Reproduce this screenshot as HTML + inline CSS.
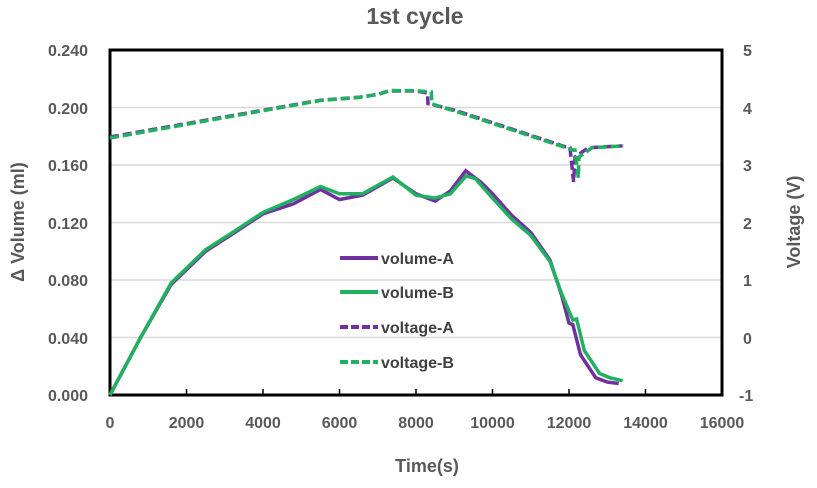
<!DOCTYPE html><html><head><style>body{margin:0;background:#fff}svg{font-family:"Liberation Sans",sans-serif;font-weight:bold}</style></head><body>
<svg width="817" height="483" viewBox="0 0 817 483">
<text x="415" y="24" text-anchor="middle" font-size="23" fill="#595959">1st cycle</text>
<g stroke="#d9d9d9" stroke-width="1.5">
<line x1="110" y1="107.5" x2="722" y2="107.5"/><line x1="110" y1="165" x2="722" y2="165"/><line x1="110" y1="222.5" x2="722" y2="222.5"/><line x1="110" y1="280" x2="722" y2="280"/><line x1="110" y1="337.5" x2="722" y2="337.5"/></g>
<rect x="110" y="50" width="612" height="345" fill="none" stroke="#000" stroke-width="3"/>
<g stroke="#000" stroke-width="1.5">
<line x1="186.5" y1="395" x2="186.5" y2="389"/><line x1="263" y1="395" x2="263" y2="389"/><line x1="339.5" y1="395" x2="339.5" y2="389"/><line x1="416" y1="395" x2="416" y2="389"/><line x1="492.5" y1="395" x2="492.5" y2="389"/><line x1="569" y1="395" x2="569" y2="389"/><line x1="645.5" y1="395" x2="645.5" y2="389"/>
</g>
<g font-size="16" fill="#595959" text-anchor="end">
<text x="88" y="56">0.240</text><text x="88" y="114">0.200</text><text x="88" y="171">0.160</text><text x="88" y="229">0.120</text><text x="88" y="286">0.080</text><text x="88" y="344">0.040</text><text x="88" y="401">0.000</text></g>
<g font-size="16" fill="#595959" text-anchor="start">
<text x="743" y="56">5</text><text x="743" y="114">4</text><text x="743" y="171">3</text><text x="743" y="229">2</text><text x="743" y="286">1</text><text x="743" y="344">0</text><text x="739" y="401">-1</text></g>
<g font-size="16" fill="#595959" text-anchor="middle">
<text x="110" y="428">0</text><text x="186.5" y="428">2000</text><text x="263" y="428">4000</text><text x="339.5" y="428">6000</text><text x="416" y="428">8000</text><text x="492.5" y="428">10000</text><text x="569" y="428">12000</text><text x="645.5" y="428">14000</text><text x="722" y="428">16000</text></g>
<text x="427" y="472" text-anchor="middle" font-size="18" fill="#595959">Time(s)</text>
<text transform="translate(24,222) rotate(-90)" text-anchor="middle" font-size="18" fill="#595959">Δ Volume (ml)</text>
<text transform="translate(800,222) rotate(-90)" text-anchor="middle" font-size="18" fill="#595959">Voltage (V)</text>
<polyline fill="none" stroke="#7030a0" stroke-width="3.5" points="110,395 140.6,337.5 171.2,284.3 205.6,251.3 232.4,234 263,213.9 293.6,203.8 320.4,189.4 339.5,199.5 362.5,195.2 393,178 416,193.8 435.1,201 450.4,190.9 465.7,170.8 481,182.3 492.5,193.8 511.6,215.3 530.8,232.6 549.9,259.9 561.4,294.4 569,323.1 572.8,324.6 580.5,354.8 595.8,377.8 607.2,382.1 618.7,383.5"/>
<polyline fill="none" stroke="#20b060" stroke-width="3.5" points="110,395 140.6,337.5 171.2,282.9 205.6,249.8 232.4,232.6 263,212.4 293.6,199.5 320.4,186.5 339.5,193.8 362.5,193.8 393,177 416,195.2 435.1,198.1 450.4,193.8 466,176 475.2,178.5 492.5,198.1 511.6,219 530.8,235.4 549.9,261.3 561.4,293 572.8,320 576.6,319 584.3,350.5 599.6,373.5 610,377.8 622.6,380.7"/>
<polyline fill="none" stroke="#7030a0" stroke-width="3.5" stroke-dasharray="9,4" points="110,137 320.4,100.2 358.6,97.3 377.8,94.4 389.3,91 416,91 427.5,93 428,103.6 454.2,110 569,148 570,148 573.6,182 575,157 588.5,147.7 622.6,145.9"/>
<polyline fill="none" stroke="#20b060" stroke-width="3.5" stroke-dasharray="9,4" points="110,138 320.4,100.5 358.6,97.5 377.8,94.4 389.3,90.5 416,90.8 431.3,92 432,104 458,112 573,150 575,150 578.3,178 579,157 592,147.7 624,145.9"/>
<line x1="340" y1="258" x2="378" y2="258" stroke="#7030a0" stroke-width="4"/>
<line x1="340" y1="292" x2="378" y2="292" stroke="#20b060" stroke-width="4"/>
<line x1="340" y1="327" x2="378" y2="327" stroke="#7030a0" stroke-width="4" stroke-dasharray="8,3"/>
<line x1="340" y1="362" x2="378" y2="362" stroke="#20b060" stroke-width="4" stroke-dasharray="8,3"/>
<g font-size="16" fill="#404040"><text x="381" y="264">volume-A</text><text x="381" y="298">volume-B</text><text x="381" y="333">voltage-A</text><text x="381" y="368">voltage-B</text></g>
</svg></body></html>
